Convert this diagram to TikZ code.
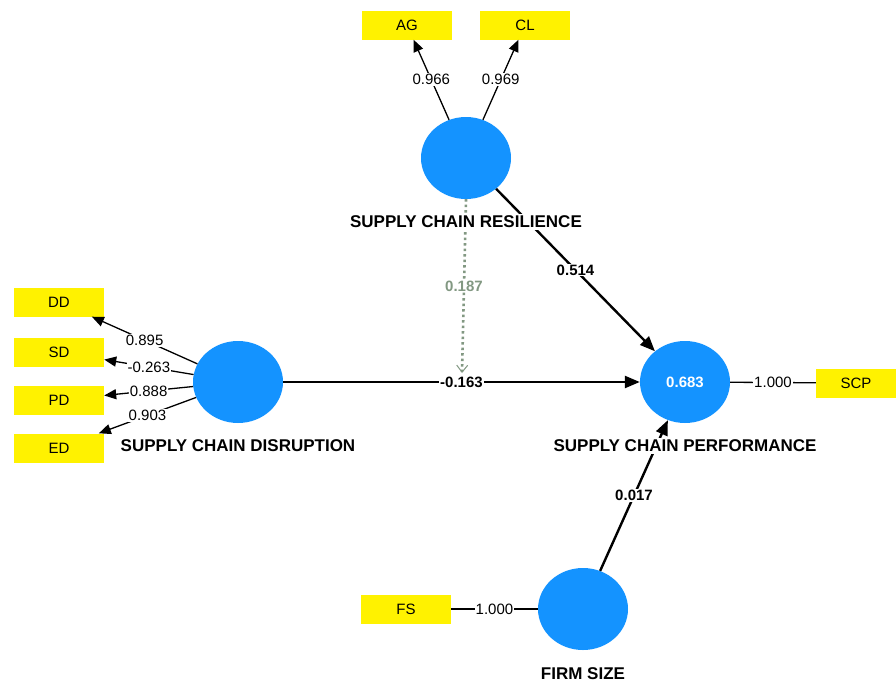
\documentclass[tikz,border=0pt]{standalone}
\usepackage{fontspec}
\setmainfont{Liberation Sans}
\usetikzlibrary{arrows.meta,shapes.geometric}
\definecolor{lvblue}{RGB}{20,147,255}
\definecolor{modgreen}{RGB}{130,152,130}
\begin{document}
\begin{tikzpicture}[x=1pt,y=-1pt,
  ind/.style={fill=yellow, minimum width=90pt, minimum height=29pt, inner sep=0pt, font=\fontsize{15}{18}\selectfont},
  lv/.style={ellipse, fill=lvblue, minimum width=90pt, minimum height=82pt, inner sep=0pt},
  lvlabel/.style={fill=white, inner sep=1.5pt, font=\bfseries\fontsize{17}{20}\selectfont},
  loadarrow/.style={-{Triangle[length=12pt,width=10pt]}, line width=1.3pt},
  loadline/.style={line width=1.3pt},
  patharrow/.style={-{Triangle[length=15pt,width=12pt]}, line width=2.4pt},
  lbl/.style={fill=white, inner sep=1pt, font=\fontsize{15}{18}\selectfont},
  blbl/.style={fill=white, inner sep=1pt, font=\bfseries\fontsize{15}{18}\selectfont}
]
\useasboundingbox (0,0) rectangle (896,683);
\fill[white] (0,0) rectangle (896,683);

% indicators
\node[ind] (dd) at (59,302) {DD};
\node[ind] (sd) at (59,352) {SD};
\node[ind] (pd) at (59,400) {PD};
\node[ind] (ed) at (59,448) {ED};
\node[ind] (ag) at (407,25) {AG};
\node[ind] (cl) at (525,25) {CL};
\node[ind, minimum width=80pt] (scpi) at (856,383) {SCP};
\node[ind] (fsi) at (406,609) {FS};

% latent variables
\node[lv] (scr) at (466,158) {};
\node[lv] (scd) at (238,382) {};
\node[lv, text=white, font=\bfseries\fontsize{15}{18}\selectfont] (scp) at (685,382) {0.683};
\node[lv] (fs) at (583,609) {};

% loadings
\draw[loadarrow] (scd) -- node[lbl] {0.895} (dd);
\draw[loadarrow] (scd) -- node[lbl] {-0.263} (sd);
\draw[loadarrow] (scd) -- node[lbl] {0.888} (pd);
\draw[loadarrow] (scd) -- node[lbl] {0.903} (ed);
\draw[loadarrow] (scr) -- node[lbl] {0.966} (ag);
\draw[loadarrow] (scr) -- node[lbl] {0.969} (cl);
\draw[loadline] (scp) -- node[lbl] {1.000} (scpi);
\draw[loadline] (fsi) -- node[lbl] {1.000} (fs);

% structural paths
\draw[patharrow] (scd) -- node[blbl] {-0.163} (scp);
\draw[patharrow] (scr) -- node[blbl] {0.514} (scp);
\draw[patharrow] (fs) -- node[blbl] {0.017} (scp);

% moderating effect
\coordinate (modend) at (462,373);
\draw[modgreen, line width=2.6pt, dash pattern=on 2.5pt off 3pt, -{Straight Barb[length=7pt,width=11pt,line width=1pt]}] (scr.south) -- node[fill=white, inner sep=1pt, text=modgreen, font=\bfseries\fontsize{15}{18}\selectfont] {0.187} (modend);

% latent labels (drawn over the connectors)
\node[lvlabel] (scrl) at (466,222) {SUPPLY CHAIN RESILIENCE};
\node[lvlabel] (scdl) at (238,446) {SUPPLY CHAIN DISRUPTION};
\node[lvlabel] (scpl) at (685,446) {SUPPLY CHAIN PERFORMANCE};
\node[lvlabel] (fsl) at (583,674) {FIRM SIZE};
\end{tikzpicture}
\end{document}
